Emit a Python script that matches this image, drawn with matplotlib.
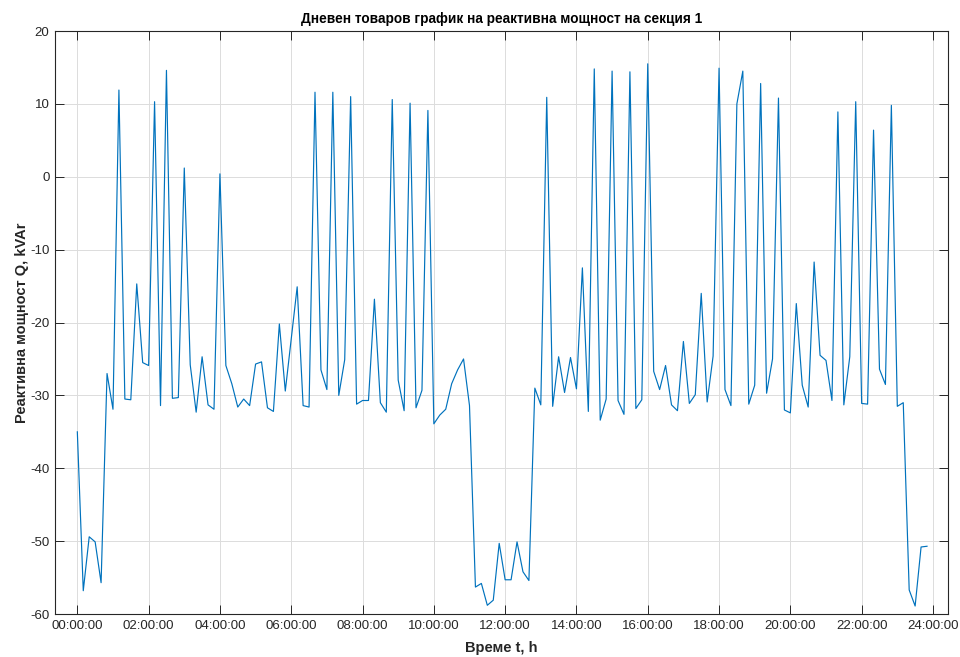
import numpy as np
import matplotlib.pyplot as plt

# reaktivna moshtnost, stapka 10 min (00:00 ... 23:50)
q_kvar = [
    -35.0, -56.8, -49.4, -50.1, -55.7, -27.0, -31.9, 11.9, -30.5, -30.6,
    -14.7, -25.5, -25.9, 10.3, -31.4, 14.6, -30.4, -30.3, 1.2, -25.8,
    -32.3, -24.7, -31.3, -31.9, 0.4, -25.9, -28.4, -31.6, -30.5, -31.4,
    -25.7, -25.4, -31.7, -32.2, -20.2, -29.4, -22.3, -15.1, -31.4, -31.6,
    11.6, -26.5, -29.2, 11.6, -30.0, -25.1, 11.0, -31.2, -30.7, -30.7,
    -16.8, -31.0, -32.3, 10.6, -27.9, -32.1, 10.1, -31.7, -29.3, 9.1,
    -33.9, -32.7, -31.9, -28.4, -26.5, -25.0, -31.4, -56.3, -55.8, -58.8,
    -58.1, -50.3, -55.3, -55.3, -50.1, -54.2, -55.4, -29.0, -31.3, 10.9,
    -31.5, -24.7, -29.6, -24.8, -29.1, -12.5, -32.2, 14.8, -33.4, -30.5,
    14.5, -30.7, -32.6, 14.4, -31.8, -30.6, 15.5, -26.7, -29.2, -25.9,
    -31.3, -32.1, -22.6, -31.1, -29.9, -16.0, -30.9, -24.6, 14.9, -29.2,
    -31.4, 10.0, 14.5, -31.2, -28.6, 12.8, -29.7, -25.0, 10.8, -32.0,
    -32.4, -17.4, -28.6, -31.6, -11.7, -24.5, -25.2, -30.7, 8.9, -31.3,
    -24.7, 10.3, -31.1, -31.2, 6.4, -26.4, -28.5, 9.8, -31.5, -31.0,
    -56.7, -58.9, -50.8, -50.7,
]
t_h = np.arange(len(q_kvar)) / 6.0

x_ticks = list(range(0, 25, 2))
x_labels = ['%02d:00:00' % h for h in x_ticks]
y_ticks = list(range(-60, 21, 10))

plt.rcParams['font.family'] = ['Liberation Sans', 'DejaVu Sans']
plt.rcParams['axes.unicode_minus'] = False
txt = '#262626'

fig = plt.figure(figsize=(9.6, 6.57), dpi=100)
ax = fig.add_axes([0.0573, 0.0654, 0.9305, 0.8874])

ax.plot(t_h, q_kvar, color='#0072BD', lw=0.85)

ax.set_xlim(-0.626, 24.43)
ax.set_ylim(-60, 20)
ax.set_xticks(x_ticks)
ax.set_xticklabels(x_labels)
ax.set_yticks(y_ticks)
ax.grid(True, color='#dcdcdc', lw=0.7)
ax.set_axisbelow(True)

ax.tick_params(direction='in', length=6.5, width=0.7, colors=txt,
               labelsize=9.5, top=True, right=True, pad=4)
for s in ax.spines.values():
    s.set_color(txt)
    s.set_linewidth(0.8)

ax.set_title('Дневен товаров график на реактивна мощност на секция 1',
             fontsize=9.8, fontweight='bold', color='black', pad=6)
ax.set_xlabel('Време t, h', fontsize=10.5, fontweight='bold', color=txt, labelpad=7)
ax.set_ylabel('Реактивна мощност Q, kVAr', fontsize=10.5, fontweight='bold',
              color=txt, labelpad=1)

fig.savefig('out.png', dpi=100)
